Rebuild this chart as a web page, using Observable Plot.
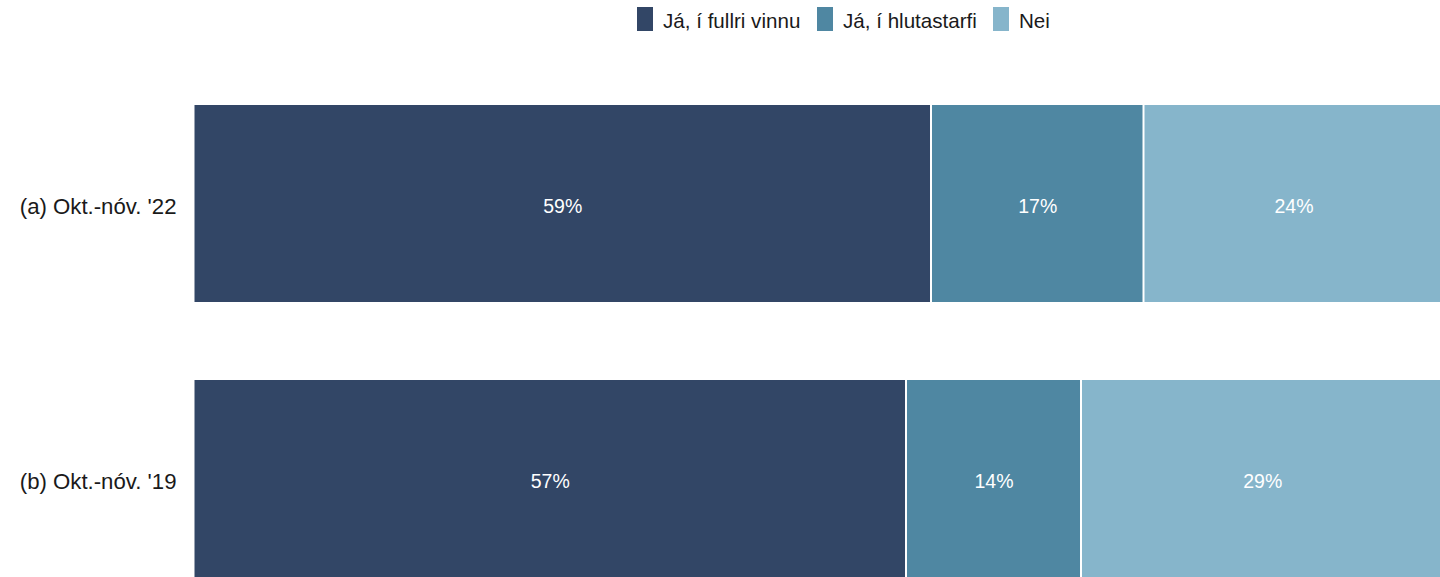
<!DOCTYPE html>
<html>
<head>
<meta charset="utf-8">
<script src="https://cdn.jsdelivr.net/npm/d3@7"></script>
<script src="https://cdn.jsdelivr.net/npm/@observablehq/plot@0.6"></script>
<style>
  html, body { margin: 0; padding: 0; background: #fff; overflow: hidden; width: 1440px; height: 577px; }
  body { font-family: "Liberation Sans", Arial, sans-serif; }
  #legend { position: relative; height: 40px; }
  .item { position: absolute; top: 0; height: 40px; display: flex; align-items: center; }
  .sw { display: inline-block; width: 16px; height: 24px; margin-right: 10px; margin-top: -2px; }
  .lab { font-size: 20.6px; color: #1a1a1a; position: relative; top: 1px; }
</style>
</head>
<body>
<div id="legend"></div>
<div id="chart"></div>
<script>
const categories = ["(a) Okt.-nóv. '22", "(b) Okt.-nóv. '19"];
const series = ["Já, í fullri vinnu", "Já, í hlutastarfi", "Nei"];
const colors = ["#324666", "#4f87a2", "#86b5cb"];
const values22 = [59, 17, 24];
const values19 = [57, 14, 29];

const data = [];
[values22, values19].forEach((vals, i) => {
  vals.forEach((v, j) => data.push({cat: categories[i], series: series[j], value: v}));
});

// legend
const legendPos = [637, 817, 993];
const legend = document.getElementById("legend");
series.forEach((s, i) => {
  const it = document.createElement("div");
  it.className = "item";
  it.style.left = legendPos[i] + "px";
  it.innerHTML = `<span class="sw" style="background:${colors[i]}"></span><span class="lab">${s}</span>`;
  legend.appendChild(it);
});

const chart = Plot.plot({
  width: 1440,
  height: 537,
  marginLeft: 194,
  marginRight: 0,
  marginTop: 0,
  marginBottom: 0,
  style: {fontFamily: "'Liberation Sans', Arial, sans-serif", background: "#fff", overflow: "hidden"},
  x: {domain: [0, 100], range: [193.5, 1443.5], axis: null},
  y: {domain: categories, range: [64, 538], paddingInner: 0.2826, paddingOuter: 0, axis: null},
  color: {domain: series, range: colors},
  marks: [
    Plot.barX(data, Plot.stackX({x: "value", y: "cat", fill: "series", order: series, insetLeft: 1, insetRight: 1})),
    Plot.text(data, Plot.stackX({x: "value", y: "cat", z: "series", order: series, text: d => d.value + "%", fill: "white", fontSize: 19.5, dy: 3})),
    Plot.axisY({tickSize: 0, tickPadding: 18, fontSize: 22.2, label: null, fill: "#1a1a1a", dy: 3})
  ]
});
document.getElementById("chart").appendChild(chart);
</script>
</body>
</html>
